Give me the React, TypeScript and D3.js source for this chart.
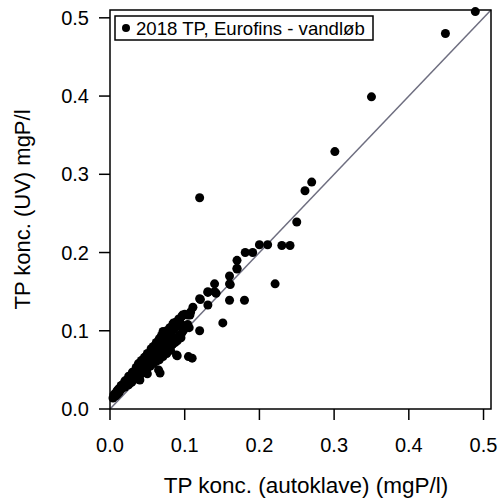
import React from "react";
import * as d3 from "d3";

const xTicks = [0, 0.1, 0.2, 0.3, 0.4, 0.5];
const yTicks = [0, 0.1, 0.2, 0.3, 0.4, 0.5];
const legendLabel = "2018 TP, Eurofins - vandløb";
const xTitle = "TP konc. (autoklave) (mgP/l)";
const yTitle = "TP konc. (UV) mgP/l";

// autoklave values (x)
const autoklave = [
  0.004, 0.005, 0.006, 0.007, 0.008, 0.009, 0.010, 0.010, 0.012, 0.012,
  0.013, 0.014, 0.015, 0.016, 0.017, 0.018, 0.019, 0.020, 0.020, 0.021,
  0.022, 0.023, 0.024, 0.025, 0.025, 0.026, 0.027, 0.028, 0.029, 0.030,
  0.030, 0.031, 0.032, 0.033, 0.034, 0.035, 0.036, 0.037, 0.038, 0.039,
  0.040, 0.040, 0.041, 0.042, 0.043, 0.044, 0.045, 0.046, 0.047, 0.048,
  0.049, 0.050, 0.050, 0.051, 0.052, 0.053, 0.054, 0.055, 0.056, 0.057,
  0.058, 0.059, 0.060, 0.061, 0.062, 0.063, 0.064, 0.065, 0.066, 0.067,
  0.068, 0.069, 0.070, 0.071, 0.072, 0.073, 0.074, 0.075, 0.076, 0.077,
  0.078, 0.079, 0.080, 0.081, 0.082, 0.083, 0.084, 0.085, 0.087, 0.088,
  0.090, 0.091, 0.093, 0.095, 0.096, 0.098, 0.100, 0.102, 0.104, 0.106,
  0.015, 0.020, 0.025, 0.028, 0.030, 0.033, 0.035, 0.038, 0.042, 0.044,
  0.046, 0.050, 0.052, 0.055, 0.058, 0.060, 0.062, 0.064, 0.066, 0.069,
  0.070, 0.072, 0.074, 0.076, 0.078, 0.080, 0.082, 0.084, 0.086, 0.088,
  0.090, 0.092, 0.094, 0.096, 0.100, 0.104, 0.108,
  0.040, 0.050, 0.065, 0.067, 0.089, 0.090, 0.105, 0.110, 0.067, 0.071,
  0.078, 0.085, 0.094, 0.085, 0.120, 0.097, 0.107, 0.111, 0.131, 0.121,
  0.131, 0.142, 0.151, 0.160, 0.180, 0.120, 0.140, 0.131, 0.140, 0.160,
  0.160, 0.161, 0.170, 0.170, 0.170, 0.181, 0.191, 0.200, 0.211, 0.221,
  0.230, 0.241, 0.250, 0.261, 0.270, 0.120, 0.301, 0.350, 0.449, 0.489,
];

// UV values (y)
const uv = [
  0.014, 0.018, 0.016, 0.020, 0.017, 0.022, 0.019, 0.024, 0.021, 0.026,
  0.023, 0.028, 0.025, 0.030, 0.027, 0.032, 0.029, 0.034, 0.028, 0.031,
  0.036, 0.033, 0.038, 0.031, 0.035, 0.040, 0.037, 0.042, 0.034, 0.039,
  0.044, 0.041, 0.046, 0.038, 0.043, 0.048, 0.045, 0.041, 0.050, 0.047,
  0.052, 0.043, 0.049, 0.054, 0.046, 0.051, 0.056, 0.053, 0.049, 0.058,
  0.055, 0.060, 0.052, 0.057, 0.062, 0.059, 0.055, 0.064, 0.061, 0.066,
  0.058, 0.063, 0.068, 0.065, 0.061, 0.070, 0.067, 0.072, 0.063, 0.069,
  0.074, 0.071, 0.076, 0.067, 0.073, 0.078, 0.075, 0.080, 0.071, 0.077,
  0.082, 0.079, 0.084, 0.075, 0.081, 0.086, 0.083, 0.088, 0.085, 0.090,
  0.087, 0.092, 0.094, 0.091, 0.097, 0.100, 0.103, 0.106, 0.108, 0.104,
  0.030, 0.036, 0.042, 0.040, 0.047, 0.048, 0.053, 0.058, 0.062, 0.060,
  0.066, 0.071, 0.068, 0.077, 0.080, 0.078, 0.085, 0.082, 0.090, 0.094,
  0.088, 0.097, 0.092, 0.100, 0.096, 0.104, 0.098, 0.108, 0.102, 0.111,
  0.106, 0.115, 0.110, 0.118, 0.121, 0.120, 0.124,
  0.037, 0.045, 0.050, 0.046, 0.069, 0.068, 0.067, 0.065, 0.088, 0.099,
  0.092, 0.086, 0.110, 0.110, 0.100, 0.120, 0.120, 0.130, 0.133, 0.140,
  0.149, 0.148, 0.110, 0.139, 0.139, 0.141, 0.150, 0.150, 0.160, 0.170,
  0.160, 0.159, 0.179, 0.180, 0.190, 0.200, 0.200, 0.210, 0.210, 0.160,
  0.209, 0.209, 0.239, 0.279, 0.290, 0.270, 0.329, 0.399, 0.480, 0.508,
];

const W = 501;
const H = 500;
const left = 110;
const right = 491;
const top = 10;
const bottom = 409;
const FONT = "'Liberation Sans', Arial, sans-serif";

export default function App() {
  const x = d3.scaleLinear().domain([0, 0.51]).range([left, right]);
  const y = d3.scaleLinear().domain([0, 0.51]).range([bottom, top]);
  const fmt = d3.format(".1f");
  const points = autoklave.map((a, i) => ({ a, u: uv[i] }));
  const diag = d3.line<number>().x((d) => x(d)).y((d) => y(d))([0, 0.51]) || "";

  return (
    <svg
      width={W}
      height={H}
      style={{ position: "absolute", left: 0, top: 0, background: "#fff" }}
      fontFamily={FONT}
    >
      <rect x={0} y={0} width={W} height={H} fill="#fff" />
      <path d={diag} stroke="#6e6e80" strokeWidth={1.5} fill="none" />
      {points.map((p, i) => (
        <circle key={i} cx={x(p.a)} cy={y(p.u)} r={4.5} fill="#000" />
      ))}
      <rect
        x={left}
        y={top}
        width={right - left}
        height={bottom - top}
        fill="none"
        stroke="#000"
        strokeWidth={1.5}
      />
      {xTicks.map((t) => (
        <g key={"x" + t}>
          <line x1={x(t)} x2={x(t)} y1={bottom} y2={bottom + 11} stroke="#000" strokeWidth={1.5} />
          <text x={x(t)} y={452} textAnchor="middle" fontSize={20} fill="#000">
            {fmt(t)}
          </text>
        </g>
      ))}
      {yTicks.map((t) => (
        <g key={"y" + t}>
          <line x1={left - 11} x2={left} y1={y(t)} y2={y(t)} stroke="#000" strokeWidth={1.5} />
          <text x={89} y={y(t) + 7} textAnchor="end" fontSize={20} fill="#000">
            {fmt(t)}
          </text>
        </g>
      ))}
      <text x={306} y={493} textAnchor="middle" fontSize={22.5} fill="#000">
        {xTitle}
      </text>
      <text
        transform={`translate(30,${(top + bottom) / 2}) rotate(-90)`}
        textAnchor="middle"
        fontSize={22}
        fill="#000"
      >
        {yTitle}
      </text>
      <rect x={115} y={16} width={258} height={24} fill="#fff" stroke="#000" strokeWidth={1.5} />
      <circle cx={126} cy={28} r={4} fill="#000" />
      <text x={136} y={35} fontSize={18.6} fill="#000">
        {legendLabel}
      </text>
    </svg>
  );
}
